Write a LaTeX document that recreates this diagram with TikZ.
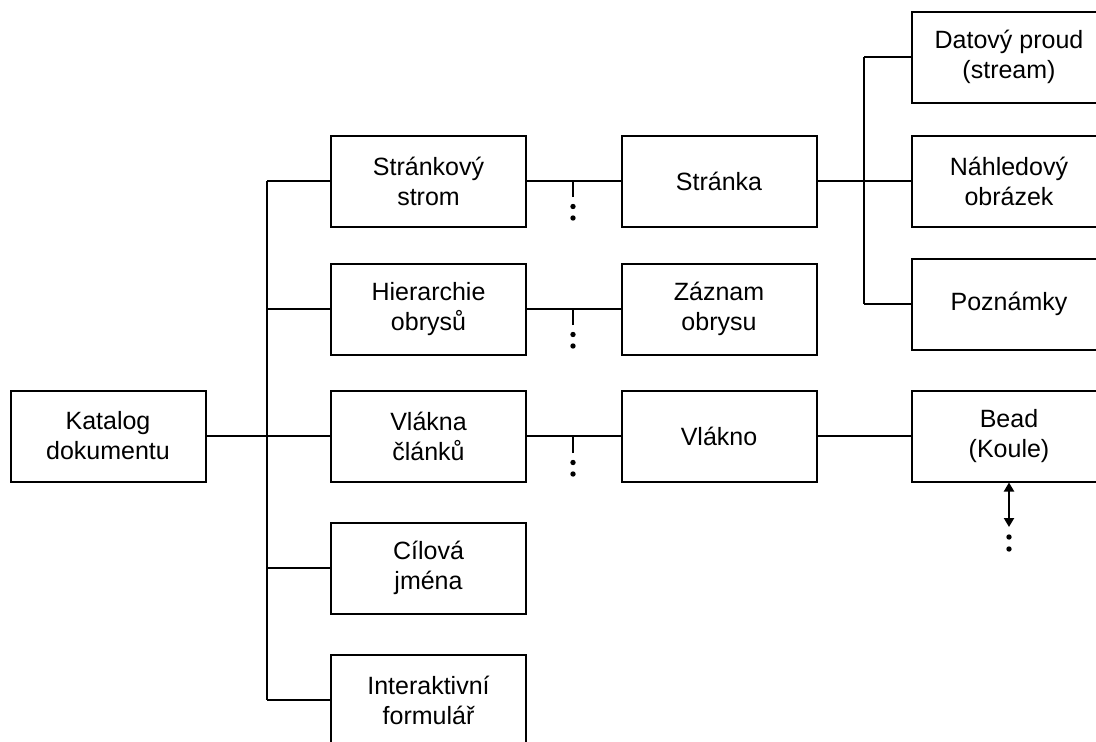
\documentclass[tikz,border=0pt]{standalone}
\usepackage{fontspec}
\setmainfont{Liberation Sans}
\usetikzlibrary{arrows.meta,calc}
\begin{document}
\begin{tikzpicture}[x=1pt,y=-1pt,
  box/.style={draw=black,line width=2pt,fill=white,minimum width=195pt,minimum height=91pt,inner sep=0pt,align=center,font=\fontsize{25}{30}\selectfont},
  conn/.style={draw=black,line width=2pt},
  dotmark/.style={fill=black,draw=none}]
\useasboundingbox (0,0) rectangle (1096,742);
\clip (0,0) rectangle (1096,742);
% nodes
\node[box] (kat) at (108,436) {Katalog\\dokumentu};
\node[box] (s1) at (428.5,181) {Stránkový\\strom};
\node[box] (s2) at (428.5,309) {Hierarchie\\obrysů};
\node[box] (s3) at (428.5,436) {Vlákna\\článků};
\node[box] (s4) at (428.5,568) {Cílová\\jména};
\node[box] (s5) at (428.5,700) {Interaktivní\\formulář};
\node[box] (p1) at (719,181) {Stránka};
\node[box] (p2) at (719,309) {Záznam\\obrysu};
\node[box] (p3) at (719,436) {Vlákno};
\node[box] (r1) at (1009,57) {Datový proud\\(stream)};
\node[box] (r2) at (1009,181) {Náhledový\\obrázek};
\node[box] (r3) at (1009,304) {Poznámky};
\node[box] (r4) at (1009,436) {Bead\\(Koule)};
% trunk coordinates
\coordinate (t) at (267,0);
\coordinate (rt) at (864,0);
\coordinate (d1) at (573,197);
\coordinate (d2) at (573,325);
\coordinate (d3) at (573,453);
\coordinate (ae) at (1009,527);
% connectors
\draw[conn] (kat.east) -- (kat.east -| t);
\draw[conn] (t |- s1) -- (t |- s5);
\foreach \n in {s1,s2,s3,s4,s5} \draw[conn] (t |- \n) -- (\n.west);
\draw[conn] (s1.east) -- (p1.west);
\draw[conn] (s2.east) -- (p2.west);
\draw[conn] (s3.east) -- (p3.west);
\foreach \d in {d1,d2,d3} {
  \draw[conn] (\d) -- ++(0,-16);
  \fill[dotmark] ($(\d)+(0,9.5)$) circle (2.7);
  \fill[dotmark] ($(\d)+(0,21)$) circle (2.7);
}
\draw[conn] (p1.east) -- (rt |- p1);
\draw[conn] (rt |- r1) -- (rt |- r3);
\foreach \n in {r1,r2,r3} \draw[conn] (rt |- \n) -- (\n.west);
\draw[conn] (p3.east) -- (r4.west);
\draw[conn,{Triangle[width=10pt,length=9pt]}-{Triangle[width=10pt,length=9pt]}] (r4.south) -- (ae);
\fill[dotmark] ($(ae)+(0,10)$) circle (2.7);
\fill[dotmark] ($(ae)+(0,22)$) circle (2.7);
\end{tikzpicture}
\end{document}
